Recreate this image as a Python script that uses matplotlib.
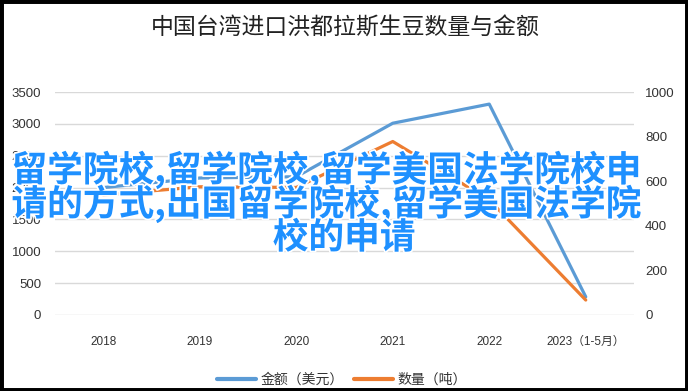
import matplotlib
matplotlib.use("Agg")
import matplotlib.pyplot as plt
import matplotlib.patheffects as pe
from matplotlib.patches import Rectangle

plt.rcParams['font.family'] = ['Noto Sans CJK SC', 'DejaVu Sans']

categories = ["2018", "2019", "2020", "2021", "2022", "2023（1-5月）"]
amount_usd = [2000, 2150, 2170, 3010, 3310, 285]      # 金额（美元）, left axis
quantity_ton = [538, 575, 572, 778, 516, 67]           # 数量（吨）, right axis
left_ticks = [0, 500, 1000, 1500, 2000, 2500, 3000, 3500]
right_ticks = [0, 200, 400, 600, 800, 1000]
title = "中国台湾进口洪都拉斯生豆数量与金额"
overlay_lines = ["留学院校,留学院校,留学美国法学院校申",
                 "请的方式,出国留学院校,留学美国法学院",
                 "校的申请"]

fig = plt.figure(figsize=(6.88, 3.91), dpi=100)
ax = fig.add_axes([0.080, 0.1944, 0.8415, 0.5703])
ax2 = ax.twinx()

x = list(range(len(categories)))
l1, = ax.plot(x, amount_usd, color='#5B9BD5', lw=2.3, solid_capstyle='round', zorder=3)
l2, = ax2.plot(x, quantity_ton, color='#ED7D31', lw=2.3, solid_capstyle='round', zorder=3)

ax.set_xlim(-0.5, len(categories) - 0.5)
ax.set_ylim(0, 3500)
ax2.set_ylim(0, 1000)
ax.set_yticks(left_ticks)
ax2.set_yticks(right_ticks)
ax.set_xticks(x)
ax.set_xticklabels(categories, fontsize=8.5, color='#333333', family=['Liberation Sans', 'Noto Sans CJK SC'])
ax.set_yticklabels([str(v) for v in left_ticks], fontsize=9.5, color='#333333', family='Liberation Sans')
ax2.set_yticklabels([str(v) for v in right_ticks], fontsize=9.5, color='#333333', family='Liberation Sans')
ax.grid(axis='y', color='#d9d9d9', lw=1)
ax.set_axisbelow(True)
for a in (ax, ax2):
    for s in a.spines.values():
        s.set_visible(False)
ax.tick_params(axis='both', length=0)
ax.tick_params(axis='y', pad=10)
ax.tick_params(axis='x', pad=15)
ax2.tick_params(axis='y', length=0, pad=8)

fig.text(0.502, 0.928, title, ha='center', va='center', fontsize=16.5, color='#222222')

leg = fig.legend([l1, l2], ["金额（美元）", "数量（吨）"], loc='center', bbox_to_anchor=(0.497, 0.028),
                 ncol=2, frameon=False, fontsize=10, handlelength=2.8, columnspacing=0.8,
                 handletextpad=0.3, labelcolor='#333333')
for h in leg.legend_handles:
    h.set_linewidth(3)

overlay_pos = [(326 / 688, 1 - 170 / 391), (326 / 688, 1 - 204 / 391), (344 / 688, 1 - 238 / 391)]
for line, (px, py) in zip(overlay_lines, overlay_pos):
    fig.text(px, py, line, ha='center', va='center', fontsize=25.7, fontweight='bold',
             color='#1E90FF',
             path_effects=[pe.withStroke(linewidth=2.5, foreground='white')], zorder=10)

fig.patches.append(Rectangle((0, 0), 1, 1, transform=fig.transFigure, fill=False,
                             edgecolor='black', lw=5, zorder=20))

fig.savefig("out.png", dpi=100)
